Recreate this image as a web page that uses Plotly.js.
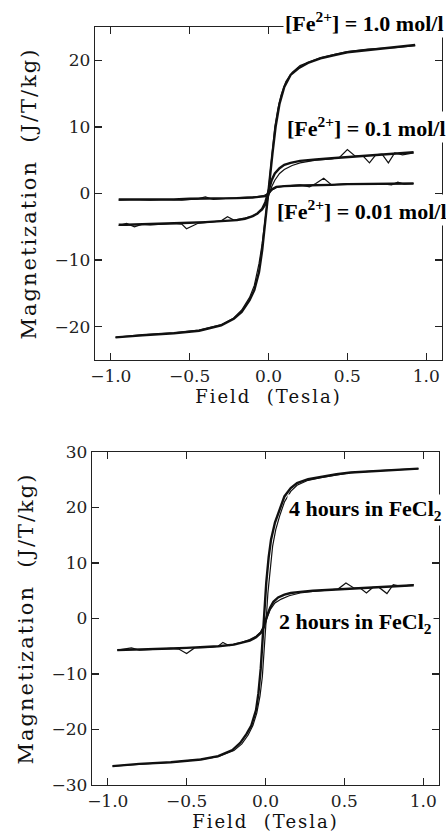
<!DOCTYPE html>
<html>
<head>
<meta charset="utf-8">
<script src="https://cdn.plot.ly/plotly-3.0.1.min.js"></script>
<style>
html,body{margin:0;padding:0;background:#fff;}
#chart{width:446px;height:834px;}
#chart .xtitle, #chart .x2title{letter-spacing:2px;}
#chart .ytitle, #chart .y2title{letter-spacing:2px;}
</style>
</head>
<body>
<div id="chart"></div>
<script>
// ---- Top panel: [Fe2+] concentration series (descending branch = thick, ascending = thin) ----
var fe10DownX = [0.93, 0.8, 0.63, 0.5, 0.42, 0.33, 0.25, 0.19, 0.14, 0.1, 0.07, 0.045, 0.025, 0.01, 0.0, -0.01, -0.025, -0.04, -0.06, -0.09, -0.12, -0.17, -0.22, -0.3, -0.44, -0.6, -0.8, -0.97];
var fe10DownY = [22.3, 22.0, 21.6, 21.2, 20.8, 20.3, 19.6, 18.8, 17.8, 16.0, 13.5, 10.0, 6.0, 2.5, 0.5, -1.8, -5.0, -8.5, -11.8, -14.5, -16.0, -17.8, -18.8, -19.8, -20.6, -21.0, -21.3, -21.6];
var fe10UpX = [-0.97, -0.8, -0.6, -0.44, -0.3, -0.22, -0.17, -0.12, -0.09, -0.06, -0.04, -0.02, -0.005, 0.01, 0.025, 0.04, 0.06, 0.08, 0.11, 0.15, 0.2, 0.25, 0.33, 0.42, 0.5, 0.63, 0.8, 0.93];
var fe10UpY = [-21.6, -21.2, -20.9, -20.5, -19.7, -18.7, -17.5, -15.6, -13.8, -10.5, -7.5, -4.0, -0.8, 3.0, 6.5, 10.0, 12.8, 14.8, 16.8, 18.2, 19.2, 19.7, 20.4, 20.9, 21.3, 21.7, 21.9, 22.2];

var fe01DownX = [0.92, 0.8, 0.7, 0.6, 0.5, 0.4, 0.3, 0.2, 0.14, 0.1, 0.07, 0.04, 0.02, 0.0, -0.02, -0.04, -0.07, -0.1, -0.15, -0.2, -0.3, -0.4, -0.5, -0.6, -0.7, -0.8, -0.9, -0.95];
var fe01DownY = [6.2, 6.0, 5.9, 5.7, 5.5, 5.3, 5.1, 4.9, 4.6, 4.3, 3.8, 3.0, 2.0, 0.3, -1.3, -2.3, -3.0, -3.4, -3.8, -4.0, -4.2, -4.3, -4.4, -4.5, -4.6, -4.6, -4.7, -4.7];
var fe01UpX = [-0.95, -0.9, -0.85, -0.8, -0.75, -0.7, -0.6, -0.55, -0.52, -0.45, -0.4, -0.35, -0.3, -0.26, -0.22, -0.15, -0.1, -0.07, -0.04, -0.02, 0.0, 0.02, 0.04, 0.07, 0.1, 0.15, 0.2, 0.3, 0.4, 0.45, 0.5, 0.55, 0.6, 0.64, 0.68, 0.72, 0.76, 0.8, 0.85, 0.92];
var fe01UpY = [-4.8, -4.5, -5.0, -4.6, -4.7, -4.6, -4.5, -4.6, -5.3, -4.5, -4.4, -4.3, -4.1, -3.5, -4.0, -3.7, -3.4, -3.0, -2.5, -1.8, -0.4, 1.0, 2.0, 3.0, 3.6, 4.2, 4.6, 5.0, 5.2, 5.4, 6.6, 5.6, 5.6, 4.6, 5.8, 5.9, 4.6, 6.1, 5.8, 6.1];

var fe001DownX = [0.92, 0.8, 0.7, 0.6, 0.5, 0.4, 0.3, 0.2, 0.1, 0.05, 0.02, 0.0, -0.02, -0.05, -0.1, -0.2, -0.3, -0.4, -0.5, -0.6, -0.7, -0.8, -0.9, -0.95];
var fe001DownY = [1.5, 1.5, 1.4, 1.5, 1.4, 1.3, 1.3, 1.2, 1.1, 1.0, 0.6, 0.0, -0.4, -0.5, -0.6, -0.7, -0.7, -0.8, -0.8, -0.9, -0.9, -0.9, -0.9, -0.9];
var fe001UpX = [-0.95, -0.85, -0.75, -0.65, -0.55, -0.45, -0.4, -0.35, -0.25, -0.15, -0.08, -0.03, 0.0, 0.02, 0.05, 0.1, 0.2, 0.26, 0.3, 0.35, 0.4, 0.5, 0.6, 0.7, 0.78, 0.82, 0.86, 0.92];
var fe001UpY = [-1.0, -0.9, -1.0, -0.9, -1.0, -0.8, -0.5, -0.9, -0.7, -0.6, -0.5, -0.3, 0.0, 0.5, 0.9, 1.1, 1.3, 1.0, 1.5, 2.3, 1.3, 1.5, 1.4, 1.5, 1.3, 1.7, 1.4, 1.5];

// ---- Bottom panel: time in FeCl2 ----
var h4DownX = [0.97, 0.85, 0.7, 0.54, 0.45, 0.35, 0.27, 0.2, 0.16, 0.12, 0.09, 0.06, 0.035, 0.02, 0.005, -0.005, -0.015, -0.03, -0.045, -0.06, -0.09, -0.12, -0.16, -0.21, -0.3, -0.41, -0.6, -0.8, -0.97];
var h4DownY = [27.0, 26.8, 26.6, 26.3, 26.0, 25.5, 25.1, 24.4, 23.5, 22.0, 19.8, 17.3, 14.2, 11.0, 6.5, 1.5, -3.5, -9.0, -13.5, -16.5, -19.3, -20.8, -22.4, -23.7, -24.8, -25.4, -25.9, -26.2, -26.6];
var h4UpX = [-0.97, -0.8, -0.6, -0.41, -0.3, -0.2, -0.15, -0.11, -0.08, -0.055, -0.035, -0.02, -0.005, 0.005, 0.015, 0.03, 0.045, 0.065, 0.09, 0.12, 0.16, 0.2, 0.27, 0.35, 0.45, 0.54, 0.7, 0.85, 0.97];
var h4UpY = [-26.6, -26.3, -25.9, -25.4, -24.9, -23.8, -22.6, -21.0, -19.3, -17.0, -14.0, -10.5, -5.0, 0.0, 4.5, 9.5, 13.0, 16.0, 18.5, 21.0, 22.9, 24.0, 24.9, 25.4, 25.9, 26.3, 26.6, 26.8, 27.0];

var h2DownX = [0.94, 0.8, 0.7, 0.6, 0.5, 0.4, 0.3, 0.22, 0.16, 0.12, 0.08, 0.05, 0.03, 0.01, 0.0, -0.01, -0.03, -0.06, -0.1, -0.15, -0.2, -0.3, -0.4, -0.5, -0.6, -0.7, -0.8, -0.9, -0.94];
var h2DownY = [6.0, 5.8, 5.7, 5.5, 5.4, 5.2, 5.0, 4.8, 4.6, 4.3, 3.8, 3.0, 2.0, 0.5, -0.5, -1.5, -2.6, -3.4, -4.0, -4.4, -4.7, -5.0, -5.2, -5.3, -5.4, -5.5, -5.6, -5.6, -5.7];
var h2UpX = [-0.94, -0.9, -0.85, -0.8, -0.75, -0.7, -0.6, -0.55, -0.5, -0.45, -0.4, -0.35, -0.3, -0.27, -0.23, -0.2, -0.15, -0.1, -0.06, -0.03, -0.01, 0.01, 0.03, 0.06, 0.1, 0.15, 0.22, 0.3, 0.4, 0.46, 0.51, 0.56, 0.6, 0.64, 0.68, 0.72, 0.77, 0.81, 0.86, 0.94];
var h2UpY = [-5.7, -5.5, -5.3, -5.7, -5.6, -5.5, -5.4, -5.5, -6.3, -5.3, -5.3, -5.2, -5.0, -4.3, -4.9, -4.6, -4.3, -3.8, -3.2, -2.4, -1.4, 0.0, 1.6, 2.8, 3.5, 4.1, 4.6, 4.9, 5.1, 5.3, 6.4, 5.5, 5.5, 4.6, 5.6, 5.6, 4.5, 6.1, 5.8, 6.1];

// ---- Tick labels / texts ----
var xTicks = [-1.0, -0.5, 0.0, 0.5, 1.0];
var xTickText = ['\u22121.0', '\u22120.5', '0.0', '0.5', '1.0'];
var yTicksTop = [-20, -10, 0, 10, 20];
var yTickTextTop = ['\u221220', '\u221210', '0', '10', '20'];
var yTicksBottom = [-30, -20, -10, 0, 10, 20, 30];
var yTickTextBottom = ['\u221230', '\u221220', '\u221210', '0', '10', '20', '30'];
var labelsTop = ['<b>[Fe<sup>2+</sup>] = 1.0 mol/l</b>', '<b>[Fe<sup>2+</sup>] = 0.1 mol/l</b>', '<b>[Fe<sup>2+</sup>] = 0.01 mol/l</b>'];
var labelsBottom = ['<b>4 hours in FeCl<sub>2</sub></b>', '<b>2 hours in FeCl<sub>2</sub></b>'];
var xTitle = 'Field\u00a0\u00a0(Tesla)';
var yTitle = 'Magnetization\u00a0\u00a0(J/T/kg)';

function line(x, y, xa, ya, w) {
  return {x: x, y: y, xaxis: xa, yaxis: ya, type: 'scatter', mode: 'lines',
          line: {color: '#111', width: w, shape: 'linear'}, showlegend: false, hoverinfo: 'skip'};
}

var data = [
  line(fe10DownX, fe10DownY, 'x', 'y', 2.4), line(fe10UpX, fe10UpY, 'x', 'y', 1.2),
  line(fe01DownX, fe01DownY, 'x', 'y', 2.4), line(fe01UpX, fe01UpY, 'x', 'y', 1.2),
  line(fe001DownX, fe001DownY, 'x', 'y', 2.4), line(fe001UpX, fe001UpY, 'x', 'y', 1.2),
  line(h4DownX, h4DownY, 'x2', 'y2', 2.4), line(h4UpX, h4UpY, 'x2', 'y2', 1.2),
  line(h2DownX, h2DownY, 'x2', 'y2', 2.4), line(h2UpX, h2UpY, 'x2', 'y2', 1.2)
];

var tickFont = {family: 'DejaVu Serif, serif', size: 17, color: '#222'};
var xTitleFont = {family: 'DejaVu Serif, serif', size: 18, color: '#111'};
var yTitleFont = {family: 'DejaVu Serif, serif', size: 21, color: '#111'};
var annFont = {family: 'Liberation Serif, Times New Roman, serif', size: 22, color: '#000'};

function xAxis(domain, anchor) {
  return {domain: domain, anchor: anchor, range: [-1.1, 1.1], tickvals: xTicks, ticktext: xTickText,
          ticks: 'inside', ticklen: 7, tickwidth: 1.2, tickcolor: '#222', mirror: 'ticks',
          showline: true, linecolor: '#222', linewidth: 1.3, showgrid: false, zeroline: false,
          automargin: true,
          tickfont: tickFont, title: {text: xTitle, font: xTitleFont, standoff: 4}};
}
function yAxis(domain, anchor, range, tv, tt) {
  return {domain: domain, anchor: anchor, range: range, tickvals: tv, ticktext: tt,
          ticks: 'inside', ticklen: 7, tickwidth: 1.2, tickcolor: '#222', mirror: 'ticks',
          showline: true, linecolor: '#222', linewidth: 1.3, showgrid: false, zeroline: false,
          automargin: true,
          tickfont: tickFont, title: {text: yTitle, font: yTitleFont, standoff: 12}};
}

function ann(text, x, y) {
  return {text: text, xref: 'paper', yref: 'paper', x: x, y: y, xanchor: 'left', yanchor: 'middle',
          showarrow: false, font: annFont, bgcolor: '#fff', borderpad: 1};
}

var layout = {
  width: 446, height: 834,
  margin: {l: 92, r: 4, t: 27, b: 49, autoexpand: false},
  paper_bgcolor: '#fff', plot_bgcolor: '#fff',
  showlegend: false,
  xaxis: xAxis([0.0086, 1], 'y'),
  yaxis: yAxis([0.5607, 1], 'x', [-25, 25], yTicksTop, yTickTextTop),
  xaxis2: xAxis([0, 0.9914], 'y2'),
  yaxis2: yAxis([0, 0.4393], 'x2', [-30, 30], yTicksBottom, yTickTextBottom),
  annotations: [
    ann(labelsTop[0], 0.546, 1.0066),
    ann(labelsTop[1], 0.551, 0.868),
    ann(labelsTop[2], 0.523, 0.7586),
    ann(labelsBottom[0], 0.557, 0.3628),
    ann(labelsBottom[1], 0.5286, 0.2137)
  ]
};

Plotly.newPlot('chart', data, layout, {staticPlot: true, displayModeBar: false});
</script>
</body>
</html>
